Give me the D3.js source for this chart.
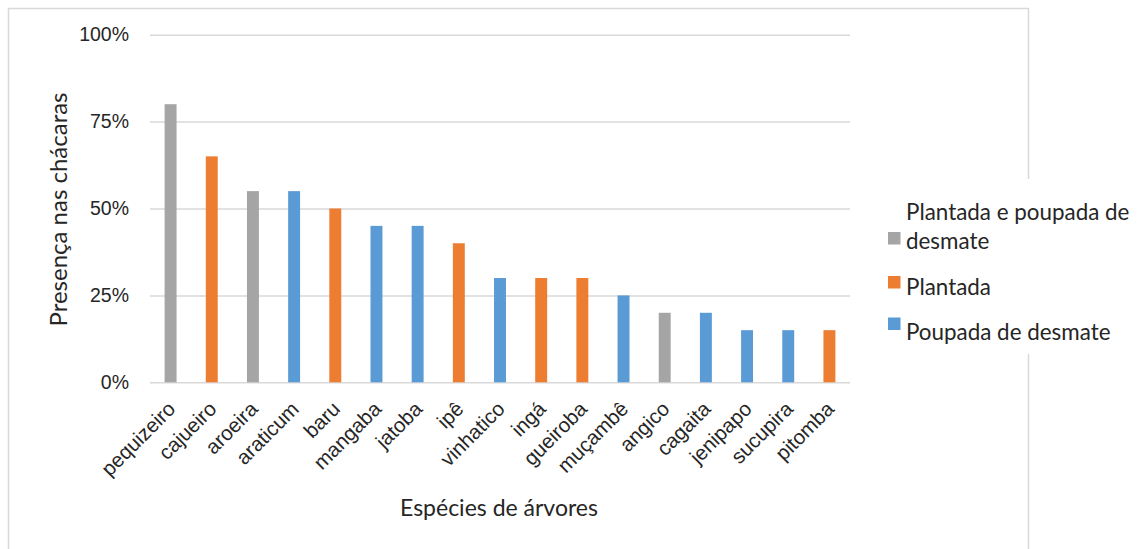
<!DOCTYPE html>
<html>
<head>
<meta charset="utf-8">
<script src="https://cdn.jsdelivr.net/npm/d3@7"></script>
<style>
  html, body { margin: 0; padding: 0; background: #fff; }
  svg { display: block; font-family: Lato, "Open Sans", sans-serif; }
</style>
</head>
<body>
<svg id="chart" width="1140" height="549"></svg>
<script>
// Species and their presence on the farms (share of farms)
const species = ["pequizeiro", "cajueiro", "aroeira", "araticum", "baru", "mangaba", "jatoba", "ipê",
  "vinhatico", "ingá", "gueiroba", "muçambê", "angico", "cagaita", "jenipapo", "sucupira", "pitomba"];
const presence = [0.80, 0.65, 0.55, 0.55, 0.50, 0.45, 0.45, 0.40,
  0.30, 0.30, 0.30, 0.25, 0.20, 0.20, 0.15, 0.15, 0.15];
// Origin of each tree: 0 = planted and spared, 1 = planted, 2 = spared from clearing
const origin = [0, 1, 0, 2, 1, 2, 2, 1, 2, 1, 1, 2, 0, 2, 2, 2, 1];
const originLabels = [["Plantada e poupada de", "desmate"], ["Plantada"], ["Poupada de desmate"]];
const yTicks = [0, 0.25, 0.5, 0.75, 1];

const colors = ["#A5A5A5", "#ED7D31", "#5B9BD5"];
const textColor = "#262626";

const svg = d3.select("#chart");

// outer chart frame
svg.append("rect")
  .attr("x", 8.5).attr("y", 8.5)
  .attr("width", 1020).attr("height", 560)
  .attr("fill", "#fff")
  .attr("stroke", "#D9D9D9").attr("stroke-width", 1.5);

const plot = { left: 150, right: 850, top: 34.7, bottom: 382.3 };

const x = d3.scaleBand()
  .domain(species)
  .range([plot.left, plot.right])
  .paddingInner(0.71)
  .paddingOuter(0.355);

const y = d3.scaleLinear()
  .domain([0, 1])
  .range([plot.bottom, plot.top]);

// horizontal gridlines + y tick labels
const yAxis = d3.axisLeft(y)
  .tickValues(yTicks)
  .tickFormat(d3.format(".0%"))
  .tickSize(-(plot.right - plot.left))
  .tickPadding(21);

const gy = svg.append("g")
  .attr("transform", `translate(${plot.left},0)`)
  .call(yAxis);
gy.select(".domain").remove();
gy.selectAll(".tick line").attr("stroke", "#D9D9D9").attr("stroke-width", 1.5);
gy.selectAll(".tick text")
  .attr("fill", textColor)
  .style("font-size", "19.5px");

// bars
svg.append("g")
  .selectAll("rect")
  .data(species)
  .join("rect")
  .attr("x", d => x(d))
  .attr("width", x.bandwidth())
  .attr("y", (d, i) => y(presence[i]))
  .attr("height", (d, i) => y(0) - y(presence[i]))
  .attr("fill", (d, i) => colors[origin[i]]);

// category labels, rotated
const gx = svg.append("g")
  .attr("transform", `translate(0,${plot.bottom})`)
  .call(d3.axisBottom(x).tickSize(0).tickPadding(0));
gx.select(".domain").remove();
gx.selectAll(".tick text")
  .attr("fill", textColor)
  .style("font-size", "20.5px")
  .attr("text-anchor", "end")
  .attr("dy", null)
  .attr("transform", "translate(6,28) rotate(-45)");

// axis titles
svg.append("text")
  .attr("transform", `translate(67,${(plot.top + plot.bottom) / 2 + 1}) rotate(-90)`)
  .attr("text-anchor", "middle")
  .attr("fill", textColor)
  .style("font-size", "24px")
  .text("Presença nas chácaras");

svg.append("text")
  .attr("x", 499).attr("y", 516)
  .attr("text-anchor", "middle")
  .attr("fill", textColor)
  .style("font-size", "23px")
  .text("Espécies de árvores");

// legend
const legend = svg.append("g");
legend.append("rect")
  .attr("x", 870).attr("y", 179)
  .attr("width", 270).attr("height", 175)
  .attr("fill", "#fff");

const legendRows = [
  { sq: 232, lines: [220, 249] },
  { sq: 276, lines: [295] },
  { sq: 317.5, lines: [340] }
];
legendRows.forEach((row, i) => {
  legend.append("rect")
    .attr("x", 888).attr("y", row.sq)
    .attr("width", 12.5).attr("height", 12.5)
    .attr("fill", colors[i]);
  originLabels[i].forEach((line, j) => {
    legend.append("text")
      .attr("x", 906).attr("y", row.lines[j])
      .attr("fill", textColor)
      .style("font-size", "22.4px")
      .text(line);
  });
});
</script>
</body>
</html>
